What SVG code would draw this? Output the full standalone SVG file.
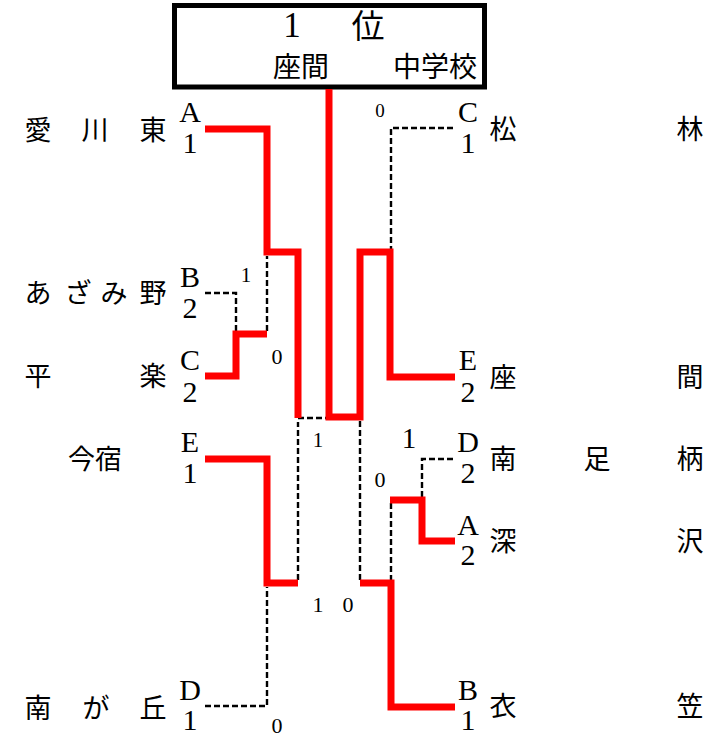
<svg xmlns="http://www.w3.org/2000/svg" width="726" height="736" viewBox="0 0 726 736">
<style>
.t{font-family:"Liberation Serif","Noto Sans CJK JP",serif;fill:#000}
.nm{font-size:27px;text-anchor:middle}
.lt{font-size:30px;text-anchor:middle}
.sc{text-anchor:middle}
.win{fill:none;stroke:#ff0000;stroke-width:7;stroke-linejoin:miter;stroke-linecap:butt}
.lose{fill:none;stroke:#000;stroke-width:2.4;stroke-dasharray:6,3}
</style>
<rect width="726" height="736" fill="#fff"/>
<g id="title">
<rect x="174.5" y="5.5" width="310" height="81.5" fill="#fff" stroke="#000" stroke-width="5"/>
<text class="t" x="292" y="37" font-size="35" text-anchor="middle">1</text>
<text class="t" x="368" y="38" font-size="33" text-anchor="middle">位</text>
<text class="t" x="273" y="77" font-size="28">座間</text>
<text class="t" x="393" y="77" font-size="28">中学校</text>
</g>
<g id="connectors">
<path class="lose" d="M205,293 H236 V331"/>
<path class="lose" d="M267,331 V256"/>
<path class="lose" d="M298,418 H326"/>
<path class="lose" d="M298,580 V422"/>
<path class="lose" d="M205,706 H267 V587"/>
<path class="lose" d="M453,128 H391 V249"/>
<path class="lose" d="M360,421 V580"/>
<path class="lose" d="M453,459 H422 V497"/>
<path class="lose" d="M391,503 V580"/>
<path class="win" d="M205,129 H267 V252 H298 V418"/>
<path class="win" d="M205,376 H236 V334 H267"/>
<path class="win" d="M205,459 H267 V583 H298"/>
<path class="win" d="M329,89 V417 H360 V252 H390 V377 H455"/>
<path class="win" d="M455,707 H391 V583 H360"/>
<path class="win" d="M455,541 H422 V500 H390"/>
</g>
<g id="scores">
<text class="t sc" x="380" y="117" font-size="19">0</text>
<text class="t sc" x="246" y="282" font-size="21">1</text>
<text class="t sc" x="277" y="364" font-size="22">0</text>
<text class="t sc" x="318" y="447" font-size="21">1</text>
<text class="t sc" x="409" y="448" font-size="29">1</text>
<text class="t sc" x="380" y="487" font-size="22">0</text>
<text class="t sc" x="318" y="612" font-size="22">1</text>
<text class="t sc" x="348" y="612" font-size="22">0</text>
<text class="t sc" x="277" y="733" font-size="22">0</text>
</g>
<g id="team-aikawahigashi">
<text class="t nm" x="38" y="140">愛</text><text class="t nm" x="95" y="140">川</text><text class="t nm" x="153" y="140">東</text>
<text class="t lt" x="190" y="122">A</text><text class="t lt" x="190" y="153">1</text>
</g>
<g id="team-azamino">
<text class="t nm" x="38" y="303">あ</text><text class="t nm" x="78" y="303">ざ</text><text class="t nm" x="114" y="303">み</text><text class="t nm" x="153" y="303">野</text>
<text class="t lt" x="190" y="287">B</text><text class="t lt" x="190" y="318">2</text>
</g>
<g id="team-hiraraku">
<text class="t nm" x="38" y="386">平</text><text class="t nm" x="153" y="386">楽</text>
<text class="t lt" x="190" y="370">C</text><text class="t lt" x="190" y="402">2</text>
</g>
<g id="team-imajuku">
<text class="t" x="68" y="469" font-size="27">今宿</text>
<text class="t lt" x="190" y="452">E</text><text class="t lt" x="190" y="483">1</text>
</g>
<g id="team-minamigaoka">
<text class="t nm" x="38" y="718">南</text><text class="t nm" x="96" y="718">が</text><text class="t nm" x="153" y="718">丘</text>
<text class="t lt" x="190" y="700">D</text><text class="t lt" x="190" y="730">1</text>
</g>
<g id="team-shorin">
<text class="t lt" x="468" y="122">C</text><text class="t lt" x="468" y="153">1</text>
<text class="t nm" x="503" y="139">松</text><text class="t nm" x="690" y="139">林</text>
</g>
<g id="team-zama">
<text class="t lt" x="468" y="370">E</text><text class="t lt" x="468" y="402">2</text>
<text class="t nm" x="503" y="387">座</text><text class="t nm" x="690" y="387">間</text>
</g>
<g id="team-minamiashigara">
<text class="t lt" x="468" y="452">D</text><text class="t lt" x="468" y="483">2</text>
<text class="t nm" x="503" y="469">南</text><text class="t nm" x="597" y="469">足</text><text class="t nm" x="690" y="469">柄</text>
</g>
<g id="team-fukasawa">
<text class="t lt" x="468" y="535">A</text><text class="t lt" x="468" y="565">2</text>
<text class="t nm" x="503" y="551">深</text><text class="t nm" x="690" y="551">沢</text>
</g>
<g id="team-kinugasa">
<text class="t lt" x="468" y="700">B</text><text class="t lt" x="468" y="730">1</text>
<text class="t nm" x="503" y="716">衣</text><text class="t nm" x="690" y="716">笠</text>
</g>
</svg>
